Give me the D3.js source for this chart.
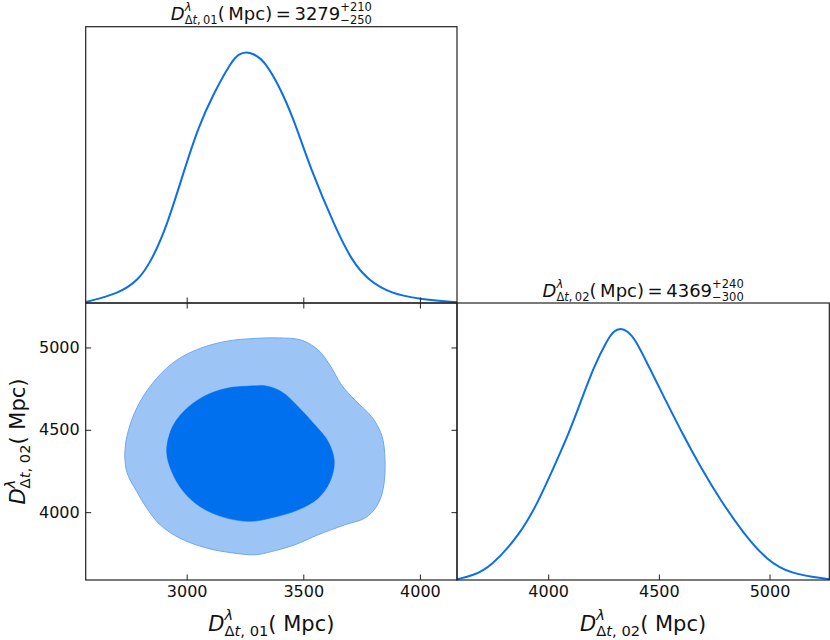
<!DOCTYPE html>
<html>
<head>
<meta charset="utf-8">
<script src="https://cdn.jsdelivr.net/npm/d3@7"></script>
<style>
  body { margin: 0; background: #fff; }
  text { font-family: "DejaVu Sans", sans-serif; fill: #111; }
</style>
</head>
<body>
<svg id="chart" width="830" height="640"></svg>
<script>
// marginal of D_dt,01 (normalised to peak = 1)
var d01X = [2567, 2707, 2793, 2850, 2914, 2993, 3050, 3114, 3193, 3225, 3254, 3285, 3336, 3414, 3471, 3529, 3636, 3707, 3778, 3878, 3995, 4159];
var d01P = [0.004, 0.037, 0.09, 0.17, 0.302, 0.54, 0.70, 0.832, 0.964, 0.992, 1.0, 0.993, 0.964, 0.832, 0.70, 0.54, 0.302, 0.17, 0.09, 0.037, 0.016, 0.003];

// marginal of D_dt,02
var d02X = [3588, 3660, 3739, 3875, 3958, 4026, 4093, 4146, 4206, 4267, 4297, 4327, 4357, 4395, 4455, 4530, 4606, 4688, 4779, 4884, 4990, 5095, 5270];
var d02P = [0.003, 0.018, 0.05, 0.183, 0.316, 0.449, 0.582, 0.705, 0.847, 0.954, 0.99, 1.0, 0.99, 0.954, 0.847, 0.714, 0.582, 0.449, 0.316, 0.183, 0.077, 0.024, 0.003];

// 2D credible contours, [D01, D02] pairs
var outer95 = [[3293, 5055], [3393, 5058], [3493, 5044], [3564, 4984], [3614, 4893], [3664, 4772], [3721, 4681],
  [3793, 4579], [3836, 4468], [3850, 4327], [3843, 4145], [3814, 4034], [3764, 3964], [3678, 3923], [3564, 3863],
  [3464, 3802], [3364, 3761], [3293, 3741], [3200, 3752], [3086, 3782], [2971, 3842], [2886, 3923], [2829, 4024],
  [2786, 4125], [2743, 4246], [2736, 4388], [2757, 4529], [2800, 4670], [2871, 4812], [2957, 4923], [3057, 4994], [3171, 5038]];
var inner68 = [[3293, 4767], [3336, 4767], [3407, 4731], [3478, 4640], [3550, 4529], [3607, 4428], [3633, 4307],
  [3614, 4185], [3564, 4085], [3478, 4014], [3378, 3970], [3271, 3944], [3157, 3970], [3057, 4034], [2986, 4125],
  [2936, 4246], [2914, 4367], [2936, 4509], [2986, 4610], [3071, 4701], [3171, 4752]];

var ticks01 = [3000, 3500, 4000];
var ticks02 = [4000, 4500, 5000];

var svg = d3.select('#chart');
var L = 85.7, M = 457, R = 829.3, T = 26.7, MY = 303, B = 580;
var lineColor = '#0b6fe8';

var x1 = d3.scaleLinear().domain([2567, 4159]).range([L, M]);
var x2 = d3.scaleLinear().domain([3588, 5270]).range([M, R]);
var y2 = d3.scaleLinear().domain([3588, 5270]).range([B, MY]);
var p1 = d3.scaleLinear().domain([0, 1.1]).range([MY, T]);
var p2 = d3.scaleLinear().domain([0, 1.1]).range([B, MY]);

// 2D contours
var contour = d3.line()
  .x(function(d) { return x1(d[0]); })
  .y(function(d) { return y2(d[1]); })
  .curve(d3.curveCatmullRomClosed);

svg.append('path').attr('d', contour(outer95))
  .attr('fill', '#9cc4f5').attr('stroke', '#6ea8f0').attr('stroke-width', 1);
svg.append('path').attr('d', contour(inner68))
  .attr('fill', '#0070ee').attr('stroke', '#0070ee').attr('stroke-width', 0.5);

// 1D marginals
var line1 = d3.line()
  .x(function(d, i) { return x1(d01X[i]); })
  .y(function(d) { return p1(d); })
  .curve(d3.curveBasis);
var line2 = d3.line()
  .x(function(d, i) { return x2(d02X[i]); })
  .y(function(d) { return p2(d); })
  .curve(d3.curveBasis);

svg.append('path').attr('d', line1(d01P))
  .attr('fill', 'none').attr('stroke', lineColor).attr('stroke-width', 2);
svg.append('path').attr('d', line2(d02P))
  .attr('fill', 'none').attr('stroke', lineColor).attr('stroke-width', 2);

// frames
[[L, T, M, MY], [L, MY, M, B], [M, MY, R, B]].forEach(function(f) {
  svg.append('rect')
    .attr('x', f[0]).attr('y', f[1])
    .attr('width', f[2] - f[0]).attr('height', f[3] - f[1])
    .attr('fill', 'none').attr('stroke', '#222').attr('stroke-width', 1.2);
});

// axes, ticks pointing in
function styleAxis(g) {
  g.select('.domain').remove();
  g.selectAll('.tick line').attr('stroke', '#222').attr('stroke-width', 1);
  g.selectAll('.tick text')
    .style('font-family', '"DejaVu Sans", sans-serif')
    .style('font-size', '16px').attr('fill', '#111');
}
var tk = -5.5;
svg.append('g').attr('transform', 'translate(0,' + MY + ')')
  .call(d3.axisBottom(x1).tickValues(ticks01).tickSize(tk).tickFormat(''))
  .call(styleAxis);
svg.append('g').attr('transform', 'translate(0,' + MY + ')')
  .call(d3.axisTop(x1).tickValues(ticks01).tickSize(tk).tickFormat(''))
  .call(styleAxis);
svg.append('g').attr('transform', 'translate(0,' + B + ')')
  .call(d3.axisBottom(x1).tickValues(ticks01).tickSize(tk).tickPadding(6).tickFormat(d3.format('d')))
  .call(styleAxis);
svg.append('g').attr('transform', 'translate(' + L + ',0)')
  .call(d3.axisLeft(y2).tickValues(ticks02).tickSize(tk).tickPadding(6).tickFormat(d3.format('d')))
  .call(styleAxis);
svg.append('g').attr('transform', 'translate(' + M + ',0)')
  .call(d3.axisRight(y2).tickValues(ticks02).tickSize(tk).tickFormat(''))
  .call(styleAxis);
svg.append('g').attr('transform', 'translate(0,' + B + ')')
  .call(d3.axisBottom(x2).tickValues(ticks02).tickSize(tk).tickPadding(6).tickFormat(d3.format('d')))
  .call(styleAxis);

// mathtext-like labels built from runs
function mathLabel(tokens, size, scr, rise) {
  var g = svg.append('g');
  var x = 0;
  function run(runs, fs, dy) {
    var w = 0;
    runs.forEach(function(r) {
      var t = g.append('text')
        .attr('x', x + w).attr('y', dy)
        .style('font-size', fs + 'px')
        .style('font-style', r.it ? 'italic' : 'normal')
        .text(r.s);
      w += t.node().getComputedTextLength();
    });
    return w;
  }
  tokens.forEach(function(tok) {
    if (tok.sup) {
      var w1 = run(tok.sup, size * scr, -size * rise);
      var w2 = run(tok.sub, size * scr, size * 0.25);
      x += Math.max(w1, w2);
    } else {
      x += run([tok], size, 0);
    }
  });
  return { g: g, width: x };
}

function dLabel(idx, gap, tail) {
  var toks = [
    { s: 'D', it: true },
    { sup: [{ s: 'λ', it: true }], sub: [{ s: 'Δ' }, { s: 't', it: true }, { s: ',' + gap + idx }] },
    { s: '(' + gap + 'Mpc)' }
  ];
  return toks.concat(tail || []);
}

var thin = '\u2009';
var t1 = mathLabel(dLabel('01', thin, [{ s: thin + '=' + thin + '3279' }, { sup: [{ s: '+210' }], sub: [{ s: '\u2212250' }] }]), 18, 0.64, 0.45);
t1.g.attr('transform', 'translate(' + ((L + M) / 2 - t1.width / 2) + ',19.5)');
var t2 = mathLabel(dLabel('02', thin, [{ s: thin + '=' + thin + '4369' }, { sup: [{ s: '+240' }], sub: [{ s: '\u2212300' }] }]), 18, 0.64, 0.45);
t2.g.attr('transform', 'translate(' + ((M + R) / 2 - t2.width / 2) + ',296.5)');

var a1 = mathLabel(dLabel('01', '\u00a0'), 21, 0.7, 0.5);
a1.g.attr('transform', 'translate(' + ((L + M) / 2 - a1.width / 2) + ',630.5)');
var a2 = mathLabel(dLabel('02', '\u00a0'), 21, 0.7, 0.5);
a2.g.attr('transform', 'translate(' + ((M + R) / 2 - a2.width / 2) + ',630.5)');
var a3 = mathLabel(dLabel('02', '\u00a0'), 21, 0.7, 0.5);
a3.g.attr('transform', 'translate(25,' + ((MY + B) / 2) + ') rotate(-90) translate(' + (-a3.width / 2) + ',0)');
</script>
</body>
</html>
